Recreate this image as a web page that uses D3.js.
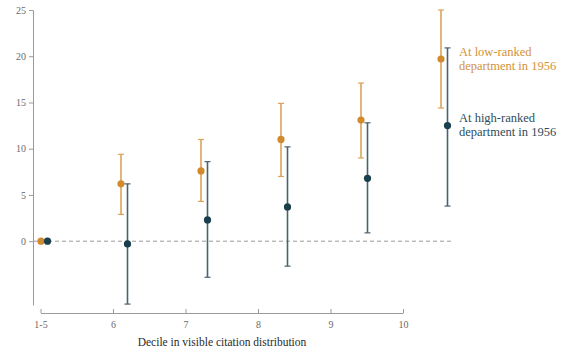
<!DOCTYPE html>
<html>
<head>
<meta charset="utf-8">
<script src="https://cdn.jsdelivr.net/npm/d3@7"></script>
<style>
  body { margin: 0; background: #fff; }
  text { font-family: "Liberation Serif", "DejaVu Serif", serif; }
</style>
</head>
<body>
<div id="chart"></div>
<script>
const deciles = ["1-5", "6", "7", "8", "9", "10"];
const yTicks = [0, 5, 10, 15, 20, 25];

// estimates with 95% CI, low-ranked department in 1956
const lowEst = [0, 6.2, 7.6, 11.0, 13.1, 19.7];
const lowLo = [null, 2.9, 4.3, 7.0, 9.0, 14.4];
const lowHi = [null, 9.4, 11.0, 14.9, 17.1, 25.0];

// high-ranked department in 1956
const highEst = [0, -0.3, 2.3, 3.7, 6.8, 12.5];
const highLo = [null, -6.8, -3.9, -2.7, 0.9, 3.8];
const highHi = [null, 6.2, 8.6, 10.2, 12.8, 20.9];

const legendLabels = [
  ["At low-ranked", "department in 1956"],
  ["At high-ranked", "department in 1956"]
];

let width = 575, height = 352;

const svg = d3.select("#chart")
  .append("svg")
  .attr("width", width)
  .attr("height", height);

let y = d3.scaleLinear()
  .domain([-6.9, 25])
  .range([305, 10]);

// the points and the axis below are not on the same spacing in the original
let xPts = d3.scalePoint()
  .domain(deciles)
  .range([41, 441]);

let xAxis = d3.scalePoint()
  .domain(deciles)
  .range([40.5, 403]);

const grey = "#9a9a9a";
const orange = { pt: "#d18b2c", line: "#dba35a" };
const teal = { pt: "#183f4b", line: "#4a6270" };

// y axis
let gy = svg.append("g")
  .attr("transform", "translate(33,0)")
  .call(d3.axisLeft(y).tickValues(yTicks).tickSize(4).tickSizeOuter(0).tickFormat(d => d))
  .attr("font-family", "Liberation Serif, serif")
  .attr("font-size", 10);
gy.select(".domain").attr("stroke", grey);
gy.selectAll(".tick line").attr("stroke", grey);
gy.selectAll(".tick text").attr("fill", "#6a6a6a");

// x axis
let gx = svg.append("g")
  .attr("transform", "translate(0,313)")
  .call(d3.axisBottom(xAxis).tickSize(-4).tickSizeOuter(0).tickPadding(8))
  .attr("font-family", "Liberation Serif, serif")
  .attr("font-size", 10);
gx.select(".domain").attr("stroke", grey);
gx.selectAll(".tick line").attr("stroke", grey);
gx.selectAll(".tick text").attr("fill", "#6a6a6a");

svg.append("text")
  .attr("x", 222)
  .attr("y", 346)
  .attr("text-anchor", "middle")
  .attr("fill", "#2a2a2a")
  .style("font-size", "11.5px")
  .text("Decile in visible citation distribution");

// zero reference line
svg.append("line")
  .attr("x1", 34).attr("x2", 452)
  .attr("y1", y(0)).attr("y2", y(0))
  .attr("stroke", grey)
  .attr("stroke-dasharray", "4,3");

function drawSeries(est, lo, hi, col, dx) {
  let g = svg.append("g");
  deciles.forEach((d, i) => {
    let cx = xPts(d) + dx;
    if (lo[i] != null) {
      g.append("line")
        .attr("x1", cx).attr("x2", cx)
        .attr("y1", y(lo[i])).attr("y2", y(hi[i]))
        .attr("stroke", col.line).attr("stroke-width", 1.6);
      for (let v of [lo[i], hi[i]]) {
        g.append("line")
          .attr("x1", cx - 3).attr("x2", cx + 3)
          .attr("y1", y(v)).attr("y2", y(v))
          .attr("stroke", col.line).attr("stroke-width", 1.2);
      }
    }
    g.append("circle")
      .attr("cx", cx)
      .attr("cy", y(est[i]))
      .attr("r", 3.6)
      .attr("fill", col.pt);
  });
}

drawSeries(lowEst, lowLo, lowHi, orange, 0);
drawSeries(highEst, highLo, highHi, teal, 6.5);

// labels at the right
let labelY = [y(lowEst[5]) - 3, y(highEst[5]) - 4];
[orange, teal].forEach((c, k) => {
  let t = svg.append("text")
    .attr("x", 459)
    .attr("y", labelY[k])
    .attr("fill", k === 0 ? "#d2923a" : "#2e4d5a")
    .style("font-size", "12.5px");
  legendLabels[k].forEach((s, j) => {
    t.append("tspan").attr("x", 459).attr("dy", j === 0 ? 0 : 14).text(s);
  });
});
</script>
</body>
</html>
